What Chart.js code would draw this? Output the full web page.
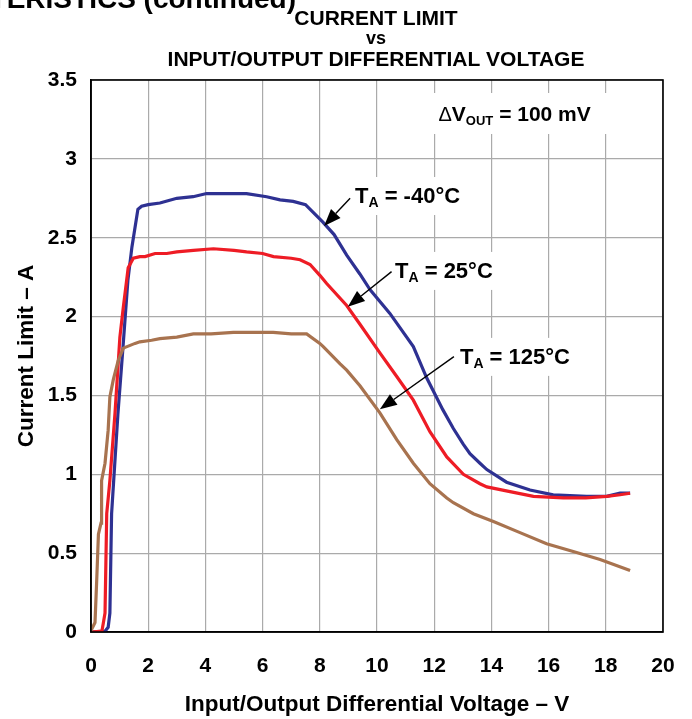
<!DOCTYPE html>
<html>
<head>
<meta charset="utf-8">
<script src="https://cdn.jsdelivr.net/npm/chart.js@4.4.1/dist/chart.umd.min.js"></script>
<style>
html,body{margin:0;padding:0;background:#fff;}
canvas{display:block;}
</style>
</head>
<body>
<canvas id="c" width="692" height="719"></canvas>
<script>
// ---- Data ----
const titleLines = ["CURRENT LIMIT", "vs", "INPUT/OUTPUT DIFFERENTIAL VOLTAGE"];
const xTicks = [0, 2, 4, 6, 8, 10, 12, 14, 16, 18, 20];
const xTickLabels = ["0", "2", "4", "6", "8", "10", "12", "14", "16", "18", "20"];
const yTicks = [0, 0.5, 1, 1.5, 2, 2.5, 3, 3.5];
const yTickLabels = ["0", "0.5", "1", "1.5", "2", "2.5", "3", "3.5"];
const seriesNames = ["TA = -40°C", "TA = 25°C", "TA = 125°C"];

const vNeg40 = [0, 0.49, 0.6, 0.66, 0.72, 0.94, 1.12, 1.29, 1.43, 1.64, 1.77, 2.0, 2.41, 3.0, 3.57, 4.04, 5.0, 5.44, 6.14, 6.61, 7.07, 7.5, 8.1, 8.5, 8.94, 9.4, 9.76, 10.45, 11.27, 11.74, 12.3, 12.67, 13.02, 13.25, 13.6, 13.84, 14.53, 15.35, 16.16, 17.33, 18.03, 18.5, 18.85];
const iNeg40 = [0, 0.005, 0.03, 0.12, 0.75, 1.38, 1.81, 2.23, 2.44, 2.68, 2.70, 2.71, 2.72, 2.75, 2.76, 2.78, 2.78, 2.78, 2.76, 2.74, 2.73, 2.71, 2.60, 2.52, 2.39, 2.27, 2.17, 2.02, 1.81, 1.61, 1.41, 1.29, 1.19, 1.13, 1.07, 1.03, 0.95, 0.90, 0.87, 0.86, 0.86, 0.88, 0.88];

const v25 = [0, 0.38, 0.43, 0.49, 0.55, 0.66, 0.84, 1.01, 1.13, 1.3, 1.48, 1.71, 1.89, 2.24, 2.65, 3.0, 3.58, 4.28, 5.0, 5.44, 6.0, 6.38, 7.0, 7.31, 7.66, 8.01, 8.24, 8.94, 9.41, 10.1, 10.69, 11.27, 11.85, 12.44, 13.02, 13.6, 13.84, 14.65, 15.47, 16.51, 17.3, 18.03, 18.5, 18.85];
const i25 = [0, 0.005, 0.055, 0.12, 0.75, 0.96, 1.39, 1.87, 2.06, 2.31, 2.37, 2.38, 2.38, 2.40, 2.40, 2.41, 2.42, 2.43, 2.42, 2.41, 2.40, 2.38, 2.37, 2.36, 2.33, 2.26, 2.21, 2.07, 1.95, 1.77, 1.62, 1.47, 1.27, 1.11, 1.00, 0.94, 0.92, 0.89, 0.86, 0.85, 0.85, 0.86, 0.87, 0.88];

const v125 = [0, 0.14, 0.2, 0.26, 0.35, 0.37, 0.49, 0.6, 0.66, 0.78, 0.95, 1.13, 1.54, 1.71, 2.12, 2.41, 3.0, 3.58, 4.2, 4.98, 5.6, 6.37, 7.0, 7.54, 8.0, 8.12, 8.71, 8.94, 9.41, 10.1, 10.69, 11.27, 11.85, 12.44, 12.67, 13.37, 14.07, 15.0, 15.93, 16.86, 17.8, 18.85];
const i125 = [0.01, 0.06, 0.33, 0.62, 0.69, 0.96, 1.07, 1.28, 1.49, 1.60, 1.72, 1.80, 1.83, 1.84, 1.85, 1.86, 1.87, 1.89, 1.89, 1.90, 1.90, 1.90, 1.89, 1.89, 1.83, 1.81, 1.70, 1.66, 1.56, 1.39, 1.22, 1.07, 0.94, 0.85, 0.82, 0.75, 0.70, 0.63, 0.56, 0.51, 0.46, 0.39];

// annotation anchors in data units: [tailV, tailI, tipV, tipI, labelV, labelBaselineI]
const arrowNeg40 = [9.06, 2.75, 8.15, 2.575, 9.23, 2.72];
const arrow25 = [10.51, 2.285, 8.98, 2.063, 10.63, 2.245];
const arrow125 = [12.69, 1.746, 10.10, 1.412, 12.90, 1.70];
// ----------------------------------------

function pts(xs, ys) { return xs.map((x, k) => ({x: x, y: ys[k]})); }

const FONT = "'Liberation Sans', Arial, Helvetica, sans-serif";

function drawSubText(ctx, x, y, main, sub, rest, size) {
  ctx.font = "bold " + size + "px " + FONT;
  ctx.fillText(main, x, y);
  let w = ctx.measureText(main).width;
  ctx.font = "bold " + Math.round(size * 0.64) + "px " + FONT;
  ctx.fillText(sub, x + w, y + 4);
  w += ctx.measureText(sub).width;
  ctx.font = "bold " + size + "px " + FONT;
  ctx.fillText(rest, x + w, y);
  return w + ctx.measureText(rest).width;
}

function drawArrow(ctx, x1, y1, x2, y2) {
  const ang = Math.atan2(y2 - y1, x2 - x1);
  const len = 17, hw = 6.5;
  const bx = x2 - len * Math.cos(ang), by = y2 - len * Math.sin(ang);
  ctx.strokeStyle = "#000";
  ctx.lineWidth = 1.4;
  ctx.beginPath();
  ctx.moveTo(x1, y1);
  ctx.lineTo(bx, by);
  ctx.stroke();
  ctx.fillStyle = "#000";
  ctx.beginPath();
  ctx.moveTo(x2, y2);
  ctx.lineTo(bx + hw * Math.sin(ang), by - hw * Math.cos(ang));
  ctx.lineTo(bx - hw * Math.sin(ang), by + hw * Math.cos(ang));
  ctx.closePath();
  ctx.fill();
}

const decor = {
  id: "decor",
  afterDraw(chart) {
    const ctx = chart.ctx;
    const a = chart.chartArea;
    const xs = chart.scales.x, ys = chart.scales.y;
    ctx.save();
    // frame
    ctx.strokeStyle = "#000";
    ctx.lineWidth = 1.6;
    ctx.strokeRect(a.left, a.top, a.right - a.left, a.bottom - a.top);

    // page header fragment (cut at the top)
    ctx.fillStyle = "#000";
    ctx.textAlign = "right";
    ctx.textBaseline = "alphabetic";
    ctx.font = "bold 28px " + FONT;
    ctx.fillText("TYPICAL CHARACTERISTICS (continued)", 296, 8);

    // title
    ctx.textAlign = "center";
    ctx.font = "bold 21px " + FONT;
    const cx = 376;
    ctx.fillText(titleLines[0], cx, 25);
    ctx.font = "bold 18px " + FONT;
    ctx.fillText(titleLines[1], cx, 44);
    ctx.font = "bold 21px " + FONT;
    ctx.fillText(titleLines[2], cx, 66);

    // label boxes + labels
    ctx.textAlign = "left";
    const labels = [[arrowNeg40, "-40°C"], [arrow25, "25°C"], [arrow125, "125°C"]];
    labels.forEach(([an, t]) => {
      const lx = xs.getPixelForValue(an[4]);
      const ly = ys.getPixelForValue(an[5]);
      ctx.fillStyle = "#fff";
      ctx.fillRect(lx - 10, ly - 26, 122, 38);
      ctx.fillStyle = "#000";
      drawSubText(ctx, lx, ly, "T", "A", " = " + t, 22);
      drawArrow(ctx, xs.getPixelForValue(an[0]), ys.getPixelForValue(an[1]),
                xs.getPixelForValue(an[2]), ys.getPixelForValue(an[3]));
    });

    // delta V label
    const dx = xs.getPixelForValue(12.15), dy = ys.getPixelForValue(3.24);
    ctx.fillStyle = "#fff";
    ctx.fillRect(dx - 10, dy - 28, 186, 41);
    ctx.fillStyle = "#000";
    ctx.font = "20px " + FONT;
    ctx.fillText("\u0394", dx, dy);
    const dw = ctx.measureText("\u0394").width;
    drawSubText(ctx, dx + dw, dy, "V", "OUT", " = 100 mV", 21);
    ctx.restore();
  }
};

const ds = (label, data, color) => ({
  label: label, data: data, borderColor: color, backgroundColor: color,
  borderWidth: 3.2, pointRadius: 0, tension: 0, fill: false
});

new Chart(document.getElementById("c"), {
  type: "line",
  data: {
    datasets: [
      ds(seriesNames[2], pts(v125, i125), "#a8734f"),
      ds(seriesNames[1], pts(v25, i25), "#ee1c25"),
      ds(seriesNames[0], pts(vNeg40, iNeg40), "#2e3192")
    ]
  },
  options: {
    responsive: false,
    animation: false,
    layout: { padding: { left: 0, right: 29, top: 80, bottom: 0 } },
    plugins: { legend: { display: false }, tooltip: { enabled: false }, title: { display: false } },
    scales: {
      x: {
        type: "linear", min: 0, max: 20,
        afterBuildTicks: s => { s.ticks = xTicks.map(v => ({value: v})); },
        afterFit: s => { s.height = 87; s.paddingLeft = 0; s.paddingRight = 0; },
        grid: { color: "#aaaaaa", lineWidth: 1.2, drawTicks: false },
        border: { color: "#000", width: 1.6 },
        ticks: { padding: 22, color: "#000", maxRotation: 0,
                 font: { family: FONT, size: 21, weight: "bold" },
                 callback: (v, i) => xTickLabels[i] },
        title: { display: true, text: "Input/Output Differential Voltage \u2013 V", color: "#000",
                 font: { family: FONT, size: 22.5, weight: "bold" }, padding: { top: 0, bottom: 1 } }
      },
      y: {
        type: "linear", min: 0, max: 3.5,
        afterBuildTicks: s => { s.ticks = yTicks.map(v => ({value: v})); },
        afterFit: s => { s.width = 91; s.paddingTop = 0; s.paddingBottom = 0; },
        grid: { color: "#aaaaaa", lineWidth: 1.2, drawTicks: false },
        border: { color: "#000", width: 1.6 },
        ticks: { padding: 14, color: "#000",
                 font: { family: FONT, size: 21, weight: "bold" },
                 callback: (v, i) => yTickLabels[i] },
        title: { display: true, text: "Current Limit \u2013 A", color: "#000",
                 font: { family: FONT, size: 22.5, weight: "bold" }, padding: { top: 13, bottom: 0 } }
      }
    }
  },
  plugins: [decor]
});
</script>
</body>
</html>
